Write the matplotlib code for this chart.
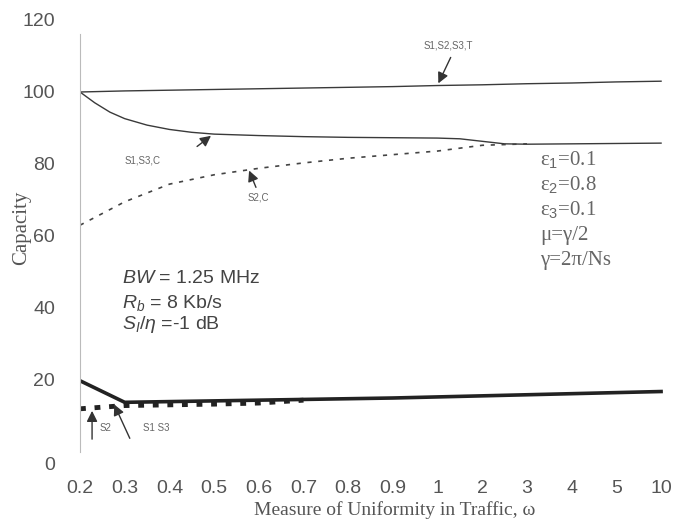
import matplotlib
matplotlib.use("Agg")
import matplotlib.pyplot as plt
import matplotlib.transforms as mtransforms
import numpy as np

plt.rcParams["mathtext.fontset"] = "custom"
plt.rcParams["mathtext.rm"] = "Liberation Sans"
plt.rcParams["mathtext.it"] = "Liberation Sans:italic"

# ---- data ----
x_labels = ["0.2", "0.3", "0.4", "0.5", "0.6", "0.7", "0.8", "0.9", "1", "2", "3", "4", "5", "10"]
cap_T = [100.0, 100.3, 100.5, 100.7, 100.9, 101.1, 101.3, 101.5, 101.8, 102.0, 102.3, 102.5, 102.8, 103.0]
# S1,S3,C read at finer positions along the category axis (index units)
s13c_pos = [0, 0.33, 0.67, 1, 1.5, 2, 2.5, 3, 4, 5, 6, 7, 8, 8.5, 9, 9.5, 10, 11, 12, 13]
cap_S1S3_C = [100.0, 97.0, 94.4, 92.6, 90.8, 89.6, 88.8, 88.3, 87.9, 87.6, 87.4, 87.3, 87.2, 87.0, 86.3, 85.6, 85.5, 85.6, 85.7, 85.8]
cap_S2_C = [63.0, 69.5, 74.4, 77.0, 78.8, 80.3, 81.6, 82.6, 83.6, 85.2, 85.6]
cap_S1S3 = [19.8, 13.8, 14.0, 14.2, 14.4, 14.6, 14.8, 15.0, 15.3, 15.6, 15.9, 16.2, 16.5, 16.8]
cap_S2 = [12.0, 12.9, 13.1, 13.3, 13.6, 14.4]
y_ticks = [0, 20, 40, 60, 80, 100, 120]

xi = np.arange(len(x_labels))

fig = plt.figure(figsize=(6.76, 5.24), dpi=100)
ax = fig.add_axes([80/676, 72/524, 590/676, 432/524])

line_c = "#3a3a3a"
ax.plot(xi, cap_T, color=line_c, lw=1.0)
ax.plot(s13c_pos, cap_S1S3_C, color=line_c, lw=1.0)
ax.plot(xi[:len(cap_S2_C)], cap_S2_C, color="#444444", lw=1.2, linestyle=(0, (2.5, 4)))
ax.plot(xi[:len(cap_S2)], cap_S2, color="#222222", lw=3.5, linestyle=(0, (1.2, 1.8)))
ax.plot(xi, cap_S1S3, color="#222222", lw=2.6)

ax.set_xlim(0, 13.2)
ax.set_ylim(0, 120)
ax.set_xticks(xi)
ax.set_xticklabels(x_labels)
ax.set_yticks(y_ticks)
ax.set_yticklabels([str(v) for v in y_ticks])
ax.tick_params(length=0, labelsize=14, labelcolor="#555555")
for lab in ax.get_xticklabels() + ax.get_yticklabels():
    lab.set_family("Liberation Sans")
ax.tick_params(axis="x", pad=20)
ax.tick_params(axis="y", pad=18)
for lab in ax.get_yticklabels():
    if lab.get_text() == "0":
        lab.set_transform(lab.get_transform() + mtransforms.ScaledTranslation(0, -12/100, fig.dpi_scale_trans))

for s in ["top", "right", "bottom"]:
    ax.spines[s].set_visible(False)
ax.spines["left"].set_color("#bbbbbb")
ax.spines["left"].set_linewidth(0.8)
ax.spines["left"].set_bounds(0, 116)

serif = "Liberation Serif"
fig.text(22/676, 1 - 228/524, "Capacity", rotation=90, ha="center", va="center",
         family=serif, fontsize=15, color="#555555")
fig.text(395/676, 1 - 510/524, "Measure of Uniformity in Traffic, ω", ha="center", va="center",
         family=serif, fontsize=14, color="#555555")

# parameter text
sans = "Liberation Sans"
ax.text(0.94, 48.3, r"$BW$ = 1.25 MHz", fontsize=14, color="#444444", va="center", family=sans)
ax.text(0.94, 41.4, r"$R_b$ = 8 Kb/s", fontsize=14, color="#444444", va="center", family=sans)
ax.text(0.94, 35.3, r"$S_I/\eta$ =-1 dB", fontsize=14, color="#444444", va="center", family=sans)

eps_lines = ["ε$_1$=0.1", "ε$_2$=0.8", "ε$_3$=0.1", "μ=γ/2", "γ=2π/Ns"]
for k, t in enumerate(eps_lines):
    ax.text(10.3, 81.0 - k * 6.95, t, fontsize=15, family=serif, color="#666666", va="center")

# annotations
small = dict(fontsize=7, color="#666666", ha="center", va="center", family=sans)
arrow = dict(arrowstyle="-|>", color="#333333", lw=1.0, mutation_scale=16)
ax.annotate("", xy=(7.99, 101.7), xytext=(8.32, 110.3), arrowprops=arrow)
ax.text(8.23, 113.0, "S1,S2,S3,T", **small)
ax.annotate("", xy=(2.98, 88.3), xytext=(2.57, 84.4), arrowprops=arrow)
ax.text(1.39, 81.1, "S1,S3,C", **small)
ax.annotate("", xy=(3.76, 78.9), xytext=(3.96, 72.8), arrowprops=arrow)
ax.text(3.98, 70.6, "S2,C", **small)
ax.annotate("", xy=(0.27, 12.2), xytext=(0.27, 2.8), arrowprops=arrow)
ax.text(0.58, 6.7, "S2", **small)
ax.annotate("", xy=(0.74, 13.9), xytext=(1.14, 3.1), arrowprops=arrow)
ax.text(1.7, 6.7, "S1 S3", **small)

fig.savefig("out.png", dpi=100)
